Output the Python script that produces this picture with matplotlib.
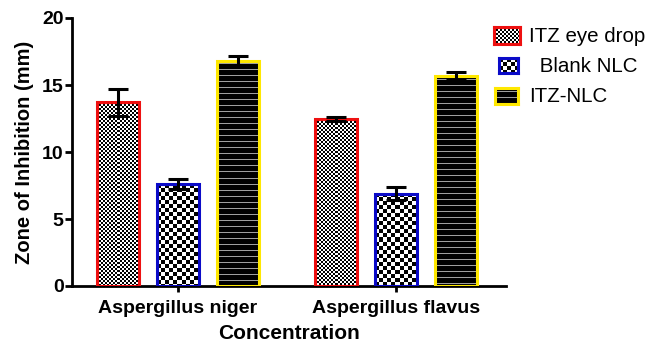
import numpy as np
import matplotlib.pyplot as plt

plt.rcParams['font.family'] = ['Liberation Sans', 'DejaVu Sans']

# data
groups = ['Aspergillus niger', 'Aspergillus flavus']
series = ['ITZ eye drop', ' Blank NLC', 'ITZ-NLC']
itz_drop = [13.7, 12.45]
itz_drop_err = [1.0, 0.15]
blank_nlc = [7.6, 6.9]
blank_nlc_err = [0.35, 0.5]
itz_nlc = [16.8, 15.65]
itz_nlc_err = [0.4, 0.3]

values = [itz_drop, blank_nlc, itz_nlc]
errors = [itz_drop_err, blank_nlc_err, itz_nlc_err]
edge_colors = ['#ee1111', '#0b0bc8', '#ffe800']
fills = ['fine', 'coarse', 'stripes']

W, H, DPI = 649, 343, 100
bar_w = 0.193
step = 0.275


def pattern(kind, h, w):
    # black/white fill pattern, one array cell per screen pixel
    yy, xx = np.mgrid[0:h, 0:w]
    if kind == 'fine':
        return ((yy // 2 + xx // 2) % 2).astype(float)
    if kind == 'coarse':
        return ((yy // 4 + xx // 4) % 2).astype(float)
    return np.where(yy % 6 == 3, 0.62, 0.0)


fig = plt.figure(figsize=(W / DPI, H / DPI), dpi=DPI)
ax = fig.add_axes([72 / W, 1 - 286 / H, (506 - 72) / W, (286 - 18) / H])
ax.set_xlim(-0.486, 1.505)
ax.set_ylim(0, 20)

x = np.arange(len(groups))
for i, (vals, errs) in enumerate(zip(values, errors)):
    pos = x + (i - 1) * step
    bars = ax.bar(pos, vals, bar_w, facecolor='none', edgecolor=edge_colors[i],
                  linewidth=2.2, zorder=3)
    for b in bars:
        x0, y0 = b.get_x(), b.get_y()
        x1, y1 = x0 + b.get_width(), y0 + b.get_height()
        (px0, py0), (px1, py1) = ax.transData.transform([(x0, y0), (x1, y1)])
        img = pattern(fills[i], max(int(round(py1 - py0)), 1), max(int(round(px1 - px0)), 1))
        im = ax.imshow(img, cmap='gray', vmin=0, vmax=1, extent=(x0, x1, y0, y1),
                       interpolation='nearest', aspect='auto', zorder=2)
        im.set_clip_path(b)
    ax.errorbar(pos, vals, yerr=errs, fmt='none', ecolor='black', elinewidth=2.2,
                capsize=7, capthick=2.2, zorder=4)

ax.set_xlim(-0.486, 1.505)
ax.set_ylim(0, 20)

for side in ['top', 'right']:
    ax.spines[side].set_visible(False)
for side in ['left', 'bottom']:
    ax.spines[side].set_linewidth(2)
ax.set_yticks([0, 5, 10, 15, 20])
ax.set_xticks(x)
ax.set_xticklabels(groups)
ax.tick_params(axis='y', length=5, width=2, labelsize=14, pad=1)
ax.tick_params(axis='x', length=4, width=2, labelsize=14, pad=6)
for lbl in ax.get_xticklabels() + ax.get_yticklabels():
    lbl.set_fontweight('bold')
ax.set_ylabel('Zone of Inhibition (mm)', fontsize=14.5, fontweight='bold', labelpad=6)
ax.set_xlabel('Concentration', fontsize=15, fontweight='bold', labelpad=5)

# legend swatches drawn as tiny axes
swatches = [(494, 27, 26, 17), (499, 58, 19, 15), (495, 88, 23, 16)]
text_pos = [(529, 36), (534, 66), (529, 96)]
for i, (sx, sy, sw, sh) in enumerate(swatches):
    lax = fig.add_axes([sx / W, 1 - (sy + sh) / H, sw / W, sh / H])
    lax.imshow(pattern(fills[i], sh, sw), cmap='gray', vmin=0, vmax=1,
               interpolation='nearest', aspect='auto')
    lax.set_xticks([])
    lax.set_yticks([])
    for s in lax.spines.values():
        s.set_color(edge_colors[i])
        s.set_linewidth(2.2)
    tx, ty = text_pos[i]
    fig.text(tx / W, 1 - ty / H, series[i], fontsize=14.8, va='center', ha='left')

fig.savefig('out.png', dpi=DPI)
